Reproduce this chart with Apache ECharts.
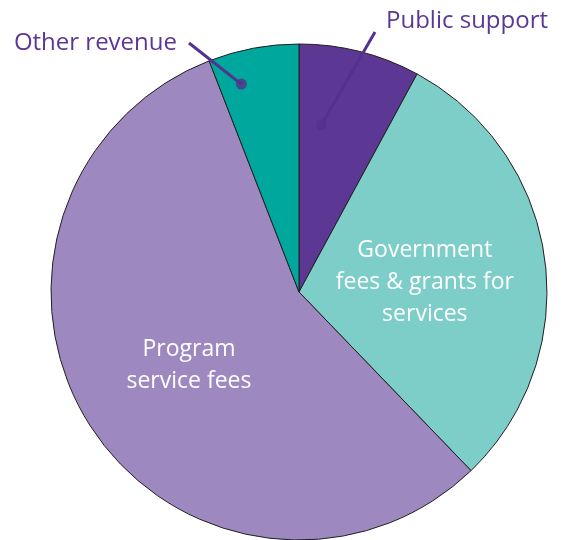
<!DOCTYPE html>
<html>
<head>
<meta charset="utf-8">
<script src="https://cdn.jsdelivr.net/npm/echarts@6/dist/echarts.min.js"></script>
<style>html,body{margin:0;padding:0;background:#fff}#c{width:568px;height:540px}</style>
</head>
<body>
<div id="c"></div>
<script>
// Data (percent of revenue)
const categories = ['Public support', 'Government\nfees & grants for\nservices', 'Program\nservice fees', 'Other revenue'];
const values = [7.9, 29.9, 56.3, 5.9];
const colors = ['#5c3793', '#7dcdc8', '#9d89c0', '#00a79d'];
// leader-line anchors for outside labels: [fraction along slice, fraction of radius]
const anchors = { 0: [0.27, 0.68], 3: [0.27, 0.87] };

const CX = 299, CY = 292, R = 248;
const total = values.reduce((a, b) => a + b, 0);
const starts = []; { let s = 0; values.forEach(v => { starts.push(s); s += v; }); }
function anchorAngle(i) { return starts[i] + values[i] * anchors[i][0]; }
function toPx(i) {
  const a = anchorAngle(i) / total * 2 * Math.PI;
  const r = anchors[i][1] * R;
  return [CX + r * Math.sin(a), CY - r * Math.cos(a)];
}

const purple = '#5c3793';
const lineColor = '#54318f';
const FONT = 'Open Sans';
const labelTargets = {
  0: { x: 386, y: 21, align: 'left', line: [375, 32] },
  3: { x: 177, y: 43, align: 'right', line: [189, 43] }
};
const insideShift = { 1: [0, 8], 2: [-3, 5] };

// Base pie: the slices and inside labels
const baseData = values.map((v, i) => {
  const outside = anchors[i] !== undefined;
  return {
    name: categories[i],
    value: v,
    itemStyle: { color: colors[i] },
    label: outside
      ? { show: false }
      : { show: true, position: 'inside', color: '#fff', fontSize: 23, lineHeight: 32, fontFamily: FONT },
    labelLine: { show: false }
  };
});
// Overlay pie: transparent slices carrying outside labels and leader lines on top
const overlayData = values.map((v, i) => {
  const outside = anchors[i] !== undefined;
  return {
    name: categories[i],
    value: v,
    itemStyle: { color: 'rgba(0,0,0,0)', borderWidth: 0 },
    label: outside
      ? { show: true, position: 'outside', color: purple, fontSize: 24, fontFamily: FONT, overflow: 'none', width: 300 }
      : { show: false },
    labelLine: { show: outside, lineStyle: { color: lineColor, width: 3 } }
  };
});

const chart = echarts.init(document.getElementById('c'));
chart.setOption({
  animation: false,
  polar: { center: [CX, CY], radius: R },
  angleAxis: { type: 'value', min: 0, max: total, startAngle: 90, clockwise: true, show: false },
  radiusAxis: { type: 'value', min: 0, max: 1, show: false },
  series: [
    {
      type: 'pie',
      center: [CX, CY],
      radius: R,
      startAngle: 90,
      clockwise: true,
      data: baseData,
      itemStyle: { borderColor: '#231f20', borderWidth: 1 },
      label: { formatter: '{b}' },
      labelLayout: function (p) {
        const s = insideShift[p.dataIndex];
        return s ? { dx: s[0], dy: s[1] } : {};
      },
      z: 1
    },
    {
      type: 'pie',
      center: [CX, CY],
      radius: R,
      startAngle: 90,
      clockwise: true,
      silent: true,
      data: overlayData,
      label: { formatter: '{b}', overflow: 'none' },
      labelLayout: function (p) {
        const t = labelTargets[p.dataIndex];
        if (!t) return {};
        return {
          x: t.x, y: t.y, align: t.align, verticalAlign: 'middle',
          labelLinePoints: [toPx(p.dataIndex), t.line, t.line]
        };
      },
      z: 3
    },
    {
      type: 'scatter',
      coordinateSystem: 'polar',
      symbolSize: 11,
      itemStyle: { color: lineColor },
      data: Object.keys(anchors).map(k => [anchors[k][1], anchorAngle(+k)]),
      z: 5
    }
  ]
});
</script>
</body>
</html>
